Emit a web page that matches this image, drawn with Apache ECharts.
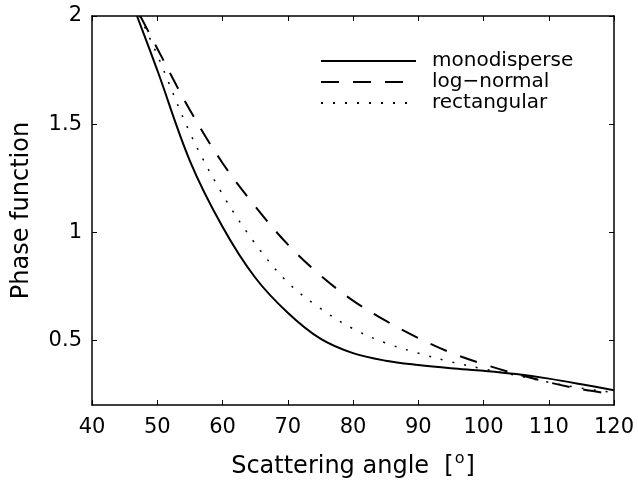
<!DOCTYPE html>
<html><head><meta charset="utf-8">
<script src="https://cdn.jsdelivr.net/npm/echarts@6/dist/echarts.min.js"></script>
<style>html,body{margin:0;padding:0;background:#fff}#c{width:638px;height:487px}</style>
</head><body><div id="c"></div><script>
// Data
const angles = [50, 55, 60, 65, 70, 75, 80, 85, 90, 95, 100, 105, 110, 115, 120];
const monodisperse = [1.75, 1.33, 1.025, 0.79, 0.627, 0.507, 0.44, 0.405, 0.385, 0.37, 0.358, 0.343, 0.322, 0.296, 0.268];
const logNormal    = [1.85, 1.565, 1.32, 1.12, 0.943, 0.80, 0.683, 0.59, 0.51, 0.442, 0.389, 0.344, 0.305, 0.273, 0.249];
const rectangular  = [1.82, 1.46, 1.175, 0.947, 0.767, 0.647, 0.553, 0.487, 0.44, 0.40, 0.367, 0.337, 0.305, 0.278, 0.257];
// angle at which each curve leaves the top of the plot (value 2)
const topAngles = { monodisperse: 46.9, logNormal: 47.4, rectangular: 47.3 };
const topValue = 2;
const seriesNames = ['monodisperse', 'log\u2212normal', 'rectangular'];
const xTicks = { min: 40, max: 120, step: 10 };
const yTicks = [0.5, 1, 1.5, 2];
const yRange = [0.2, 2];

const FONT = 'DejaVu Sans';
function pairs(start, vals) {
  const out = [[start, topValue]];
  angles.forEach((a, i) => out.push([a, vals[i]]));
  return out;
}
const tickStyle = { show: true, inside: true, length: 5, lineStyle: { color: '#000', width: 1 } };
const lineAx = { show: true, onZero: false, lineStyle: { color: '#000', width: 1.5 } };

const chart = echarts.init(document.getElementById('c'), null, { renderer: 'canvas' });
chart.setOption({
  backgroundColor: '#fff',
  animation: false,
  grid: { left: 92, right: 24, top: 16, bottom: 82 },
  legend: {
    orient: 'vertical', left: 315, top: 46,
    itemWidth: 95, itemHeight: 20, itemGap: 1,
    selectedMode: false,
    data: seriesNames,
    itemStyle: { opacity: 0 },
    textStyle: { fontFamily: FONT, fontSize: 20, color: '#000', padding: [0, 0, 0, 11] }
  },
  xAxis: [
    {
      type: 'value', position: 'bottom', min: xTicks.min, max: xTicks.max, interval: xTicks.step,
      axisLine: lineAx, axisTick: tickStyle, splitLine: { show: false },
      axisLabel: { color: '#000', fontFamily: FONT, fontSize: 21, margin: 12 },
      name: '{t|Scattering angle  [}{s|o}{t|]}',
      nameLocation: 'middle', nameGap: 46,
      nameTextStyle: {
        color: '#000', fontFamily: FONT, fontSize: 24,
        rich: {
          t: { fontFamily: FONT, fontSize: 24, color: '#000', verticalAlign: 'bottom' },
          s: { fontFamily: FONT, fontSize: 16, color: '#000', verticalAlign: 'bottom', padding: [0, 1, 12, 1] }
        }
      }
    },
    {
      type: 'value', position: 'top', min: xTicks.min, max: xTicks.max, interval: xTicks.step,
      axisLine: lineAx, axisTick: tickStyle, axisLabel: { show: false }, splitLine: { show: false }
    }
  ],
  yAxis: [
    {
      type: 'value', position: 'left', min: yRange[0], max: yRange[1],
      axisLine: lineAx,
      axisTick: Object.assign({}, tickStyle, { customValues: yTicks }),
      axisLabel: { customValues: yTicks, color: '#000', fontFamily: FONT, fontSize: 21, margin: 10 },
      splitLine: { show: false },
      name: 'Phase function', nameLocation: 'middle', nameGap: 58,
      nameTextStyle: { color: '#000', fontFamily: FONT, fontSize: 24 }
    },
    {
      type: 'value', position: 'right', min: yRange[0], max: yRange[1],
      axisLine: lineAx,
      axisTick: Object.assign({}, tickStyle, { customValues: yTicks }),
      axisLabel: { show: false }, splitLine: { show: false }
    }
  ],
  series: [
    {
      name: seriesNames[0], type: 'line', smooth: 0.35, symbol: 'none', clip: true,
      data: pairs(topAngles.monodisperse, monodisperse),
      lineStyle: { color: '#000', width: 2, type: 'solid' }, itemStyle: { color: '#000' }
    },
    {
      name: seriesNames[1], type: 'line', smooth: 0.35, symbol: 'none', clip: true,
      data: pairs(topAngles.logNormal, logNormal),
      lineStyle: { color: '#000', width: 2, type: [18, 14] }, itemStyle: { color: '#000' }
    },
    {
      name: seriesNames[2], type: 'line', smooth: 0.35, symbol: 'none', clip: true,
      data: pairs(topAngles.rectangular, rectangular),
      lineStyle: { color: '#000', width: 1.5, type: [2, 10] }, itemStyle: { color: '#000' }
    }
  ]
});
</script></body></html>
